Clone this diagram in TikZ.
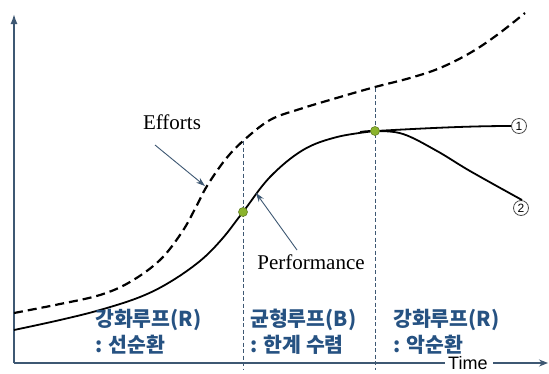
\documentclass[tikz,border=0pt]{standalone}
\usepackage{fontspec}
\setmainfont{Liberation Serif}
\newfontfamily\kr{Noto Sans CJK KR}
\newfontfamily\arialf{Liberation Sans}
\usetikzlibrary{arrows.meta}
\definecolor{axisc}{RGB}{62,88,115}
\definecolor{krblue}{RGB}{38,82,130}
\definecolor{dotg}{RGB}{140,180,45}
\definecolor{dotedge}{RGB}{100,130,40}
\begin{document}
\begin{tikzpicture}[x=1pt,y=-1pt,
  axisline/.style={draw=axisc,line width=1.6pt},
  guide/.style={draw=axisc,line width=0.8pt,dash pattern=on 4pt off 2.5pt},
  effort/.style={draw=black,line width=2.2pt,dash pattern=on 9pt off 5pt},
  perf/.style={draw=black,line width=1.8pt},
  pointer/.style={draw=axisc,line width=0.9pt,-{Stealth[length=9pt,width=6pt]}},
  gdot/.style={circle,fill=dotg,draw=dotedge,line width=0.6pt,minimum size=9pt,inner sep=0pt},
  numc/.style={circle,draw=black!70,line width=0.8pt,minimum size=15pt,inner sep=0pt,font=\arialf\fontsize{12}{12}\selectfont},
  lbl/.style={font=\fontsize{21}{21}\selectfont,inner sep=0pt},
  krlbl/.style={font=\kr\bfseries\fontsize{20.5}{26}\selectfont,text=krblue,align=left,anchor=west,inner sep=0pt}
]
\useasboundingbox (0,0) rectangle (549,373);
\fill[white] (0,0) rectangle (549,373);

% axes
\coordinate (O) at (14,363);
\coordinate (Ytop) at (14,14);
\coordinate (Xend) at (445,363);
\coordinate (Tend) at (548,363);
\draw[axisline,-{Latex[length=10pt,width=7pt]}] (O) -- (Ytop);
\draw[axisline] (O) -- (Xend);
\node[font=\arialf\fontsize{18}{18}\selectfont,inner sep=0pt,anchor=west] (time) at (448,363) {Time};
\draw[axisline,line width=1.2pt,-{Stealth[length=9pt,width=7pt]}] (493,363) -- (Tend);

% guide lines
\coordinate (g1t) at (243,141);
\coordinate (g1b) at (243,370);
\coordinate (g2t) at (375,88);
\coordinate (g2b) at (375,370);
\draw[guide] (g1t) -- (g1b);
\draw[guide] (g2t) -- (g2b);

% efforts curve
\draw[effort] plot[smooth,tension=0.6] coordinates {(14,313) (60,304) (100,295) (130,282) (160,260) (182,232) (196,207) (207,186) (225,160) (243,141) (270,120) (300,109) (340,97) (375,87) (410,78) (440,68) (470,53) (497,35) (525,13)};

% performance curve
\draw[perf] plot[smooth,tension=0.6] coordinates {(14,330) (60,320) (100,310) (140,297) (170,282) (200,261) (222,239) (243,212) (270,177) (303,150) (337,137) (375,131)};
\node[numc] (c1) at (519,126) {1};
\node[numc] (c2) at (521,208) {2};
\draw[perf] (375,131) .. controls (430,128) and (470,126) .. (c1.west);
\draw[perf] plot[smooth,tension=0.6] coordinates {(360,132) (375,131) (403,134) (437,151) (470,171) (522,200)};

% points
\node[gdot] (p1) at (243,212) {};
\node[gdot] (p2) at (375,131) {};

% labels
\node[lbl] (eff) at (172,122) {Efforts};
\draw[pointer] (155,145) -- (205,186);
\node[lbl] (per) at (311,262) {Performance};
\draw[pointer] (297,250) -- (256,193);

\node[krlbl] (k1) at (95,332) {강화루프(R)\\: 선순환};
\node[krlbl] (k2) at (250,332) {균형루프(B)\\: 한계 수렴};
\node[krlbl] (k3) at (393,332) {강화루프(R)\\: 악순환};
\end{tikzpicture}
\end{document}
